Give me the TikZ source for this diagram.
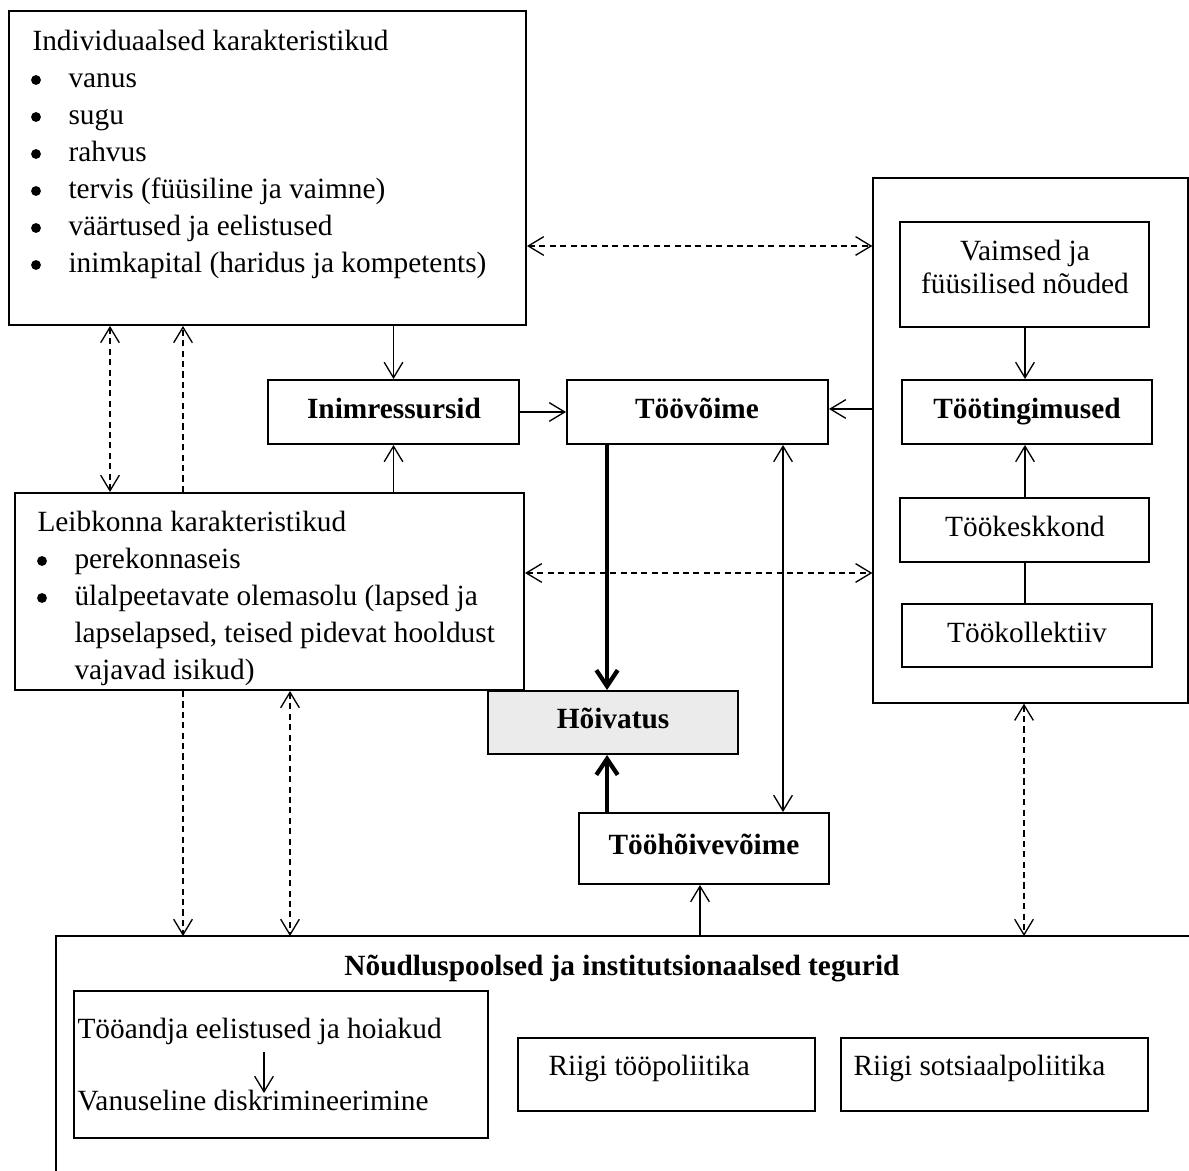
\documentclass[tikz,border=0pt]{standalone}
\usepackage{fontspec}
\setmainfont{Liberation Serif}
\usetikzlibrary{arrows.meta,fit}
\begin{document}
\begin{tikzpicture}[x=0.375pt,y=-0.375pt,
  >={Straight Barb[length=5.8pt,width=7pt]},
  every node/.style={font=\fontsize{11pt}{13.9pt}\selectfont},
  box/.style={draw,line width=0.75pt,inner sep=0pt},
  grey box/.style={box,fill=black!8},
  thin/.style={line width=0.5pt},
  thick arrow/.style={line width=1.6pt,-{Straight Barb[length=6pt,width=8pt,line width=1.6pt]}},
  dash line/.style={line width=0.5pt,dash pattern=on 2.3pt off 1.6pt},
  txt/.style={anchor=base west,inner sep=0pt},
  ctr/.style={anchor=base,inner sep=0pt},
  bold/.style={ctr,font=\fontsize{11pt}{13.9pt}\selectfont\bfseries},
  bullet/.style={circle,fill,inner sep=0pt,minimum size=3.7pt}
]
\useasboundingbox (0,0) rectangle (1189,1171);

% ---------- Individual characteristics ----------
\node[box,fit={(9,11) (526,325)}] (ind) {};
\node[txt] (indT) at (32,51) {Individuaalsed karakteristikud};
\node[bullet] (ib1) at (36,80) {};  \node[txt] (ii1) at (68,88) {vanus};
\node[bullet] (ib2) at (36,117) {}; \node[txt] (ii2) at (68,125) {sugu};
\node[bullet] (ib3) at (36,154) {}; \node[txt] (ii3) at (68,162) {rahvus};
\node[bullet] (ib4) at (36,191) {}; \node[txt] (ii4) at (68,199) {tervis (füüsiline ja vaimne)};
\node[bullet] (ib5) at (36,228) {}; \node[txt] (ii5) at (68,236) {väärtused ja eelistused};
\node[bullet] (ib6) at (36,265) {}; \node[txt] (ii6) at (68,273) {inimkapital (haridus ja kompetents)};

% ---------- Household characteristics ----------
\node[box,fit={(15,493) (524,690)}] (hh) {};
\node[txt] (hhT) at (37,532) {Leibkonna karakteristikud};
\node[bullet] (hb1) at (42,561) {}; \node[txt] (hi1) at (74,569) {perekonnaseis};
\node[bullet] (hb2) at (42,598) {}; \node[txt] (hi2) at (74,606) {ülalpeetavate olemasolu (lapsed ja};
\node[txt] (hi3) at (74,643) {lapselapsed, teised pidevat hooldust};
\node[txt] (hi4) at (74,680) {vajavad isikud)};

% ---------- Central boxes ----------
\node[box,fit={(268,380) (519,444)}] (inim) {};
\node[bold] (inimT) at (394,419) {Inimressursid};
\node[box,fit={(567,380) (828,444)}] (toov) {};
\node[bold] (toovT) at (697,419) {Töövõime};
\node[grey box,fit={(488,691) (738,754)}] (hoiv) {};
\node[bold] (hoivT) at (613,729) {Hõivatus};
\node[box,fit={(579,813) (829,884)}] (thv) {};
\node[bold] (thvT) at (704,855) {Tööhõivevõime};

% ---------- Right panel ----------
\node[draw,line width=0.5pt,inner sep=0pt,fit={(873,178) (1188,703)}] (outer) {};
\node[box,fit={(900,222) (1149,327)}] (vaim) {};
\node[ctr] (vaimT1) at (1025,261) {Vaimsed ja};
\node[ctr] (vaimT2) at (1025,294) {füüsilised nõuded};
\node[box,fit={(902,380) (1152,444)}] (ttm) {};
\node[bold] (ttmT) at (1027,419) {Töötingimused};
\node[box,fit={(900,498) (1149,562)}] (tkk) {};
\node[ctr] (tkkT) at (1025,537) {Töökeskkond};
\node[box,fit={(902,604) (1152,667)}] (tkol) {};
\node[ctr] (tkolT) at (1027,643) {Töökollektiiv};

% ---------- Bottom panel (open at bottom and right) ----------
\coordinate (bTL) at (56,936);
\coordinate (bTR) at (1189,936);
\coordinate (bBL) at (56,1171);
\draw[line width=0.5pt] (bTR) -- (bTL) -- (bBL);
\node[bold] (botT) at (622,975) {Nõudluspoolsed ja institutsionaalsed tegurid};
\node[draw,line width=0.5pt,inner sep=0pt,fit={(74,991) (488,1138)}] (emp) {};
\node[txt] (empT1) at (77,1038) {Tööandja eelistused ja hoiakud};
\node[txt] (empT2) at (77,1110) {Vanuseline diskrimineerimine};
\node[draw,line width=0.5pt,inner sep=0pt,fit={(518,1038) (815,1111)}] (rtp) {};
\node[txt] (rtpT) at (548,1075) {Riigi tööpoliitika};
\node[draw,line width=0.5pt,inner sep=0pt,fit={(841,1038) (1148,1111)}] (rsp) {};
\node[txt] (rspT) at (853,1075) {Riigi sotsiaalpoliitika};
\coordinate (empA) at (264,1052);
\coordinate (empB) at (264,1093);
\draw[thin,->] (empA) -- (empB);

% ---------- Solid connectors ----------
\draw[thin,->] (ind.south -| inim.north) -- (inim.north);
\draw[thin,->] (hh.north -| inim.south) -- (inim.south);
\draw[thin,->] (inim.east |- 0,412) -- (toov.west |- 0,412);
\draw[thin,->] (outer.west |- 0,409) -- (toov.east |- 0,409);
\draw[thin,->] (vaim.south -| 1025,0) -- (ttm.north -| 1025,0);
\draw[thin,->] (tkk.north -| 1025,0) -- (ttm.south -| 1025,0);
\draw[thin] (tkk.south -| 1025,0) -- (tkol.north -| 1025,0);
\draw[thin,<->] (toov.south -| 783,0) -- (thv.north -| 783,0);
\draw[thin,->] (bTL -| 700,0) -- (thv.south -| 700,0);
\draw[thick arrow] (toov.south -| 607,0) -- (hoiv.north -| 607,0);
\draw[thick arrow] (thv.north -| 607,0) -- (hoiv.south -| 607,0);

% ---------- Dashed connectors ----------
\draw[dash line,<->] (ind.east |- 0,246) -- (outer.west |- 0,246);
\draw[dash line,<->] (hh.east |- 0,573) -- (outer.west |- 0,573);
\draw[dash line,<->] (ind.south -| 110,0) -- (hh.north -| 110,0);
\draw[dash line,->] (hh.north -| 183,0) -- (ind.south -| 183,0);
\draw[dash line,->] (hh.south -| 183,0) -- (bTL -| 183,0);
\draw[dash line,<->] (hh.south -| 290,0) -- (bTL -| 290,0);
\draw[dash line,<->] (outer.south -| 1024,0) -- (bTL -| 1024,0);
\end{tikzpicture}
\end{document}
